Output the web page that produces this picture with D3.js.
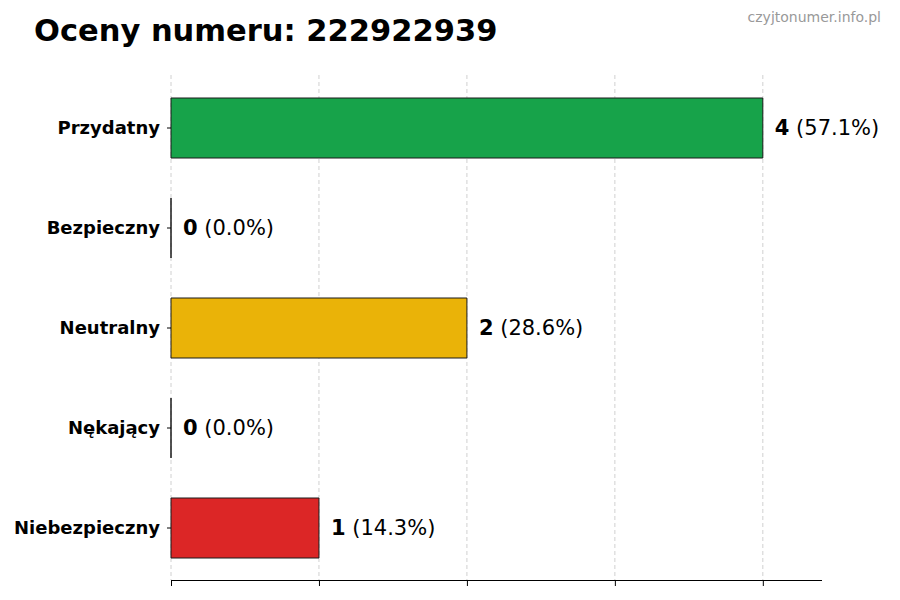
<!DOCTYPE html>
<html>
  <head>
    <meta charset="utf-8">
    <script src="https://d3js.org/d3.v7.min.js"></script>
    <style>
      body { margin: 0; background: #fff; }
      text { font-family: "DejaVu Sans", sans-serif; }
      .grid line { stroke: #d0d0d0; stroke-dasharray: 4,3; }
    </style>
  </head>
  <body>
    <div id="chart"></div>
    <script>
      // data
      var categories = ["Przydatny", "Bezpieczny", "Neutralny", "Nękający", "Niebezpieczny"];
      var counts = [4, 0, 2, 0, 1];
      var percents = ["57.1%", "0.0%", "28.6%", "0.0%", "14.3%"];
      var barColors = ["#17a34a", "#9ca3af", "#eab308", "#f97316", "#dc2626"];
      var xTicks = [0, 1, 2, 3, 4];
      var titleText = "Oceny numeru: 222922939";
      var sourceText = "czyjtonumer.info.pl";

      var width = 900, height = 600;
      var margin = {top: 75, right: 78, bottom: 20, left: 171};

      var svg = d3.select("#chart").append("svg")
          .attr("width", width)
          .attr("height", height);

      var x = d3.scaleLinear()
          .domain([0, 4.4])
          .range([margin.left, width - margin.right]);

      var y = d3.scaleBand()
          .domain(categories)
          .range([78, 578])
          .paddingInner(0.4)
          .paddingOuter(0.2);

      // vertical dashed grid
      svg.append("g")
          .attr("class", "grid")
          .selectAll("line")
          .data(xTicks)
          .enter().append("line")
            .attr("x1", function(d) { return x(d); })
            .attr("x2", function(d) { return x(d); })
            .attr("y1", margin.top)
            .attr("y2", 580);

      // bars as paths so that zero-width bars still show their edge
      svg.append("g")
          .selectAll("path")
          .data(categories)
          .enter().append("path")
            .attr("d", function(d, i) {
              var w = x(counts[i]) - x(0);
              return "M" + x(0) + "," + y(d) + "h" + w + "v" + y.bandwidth() + "h" + (-w) + "Z";
            })
            .attr("fill", function(d, i) { return barColors[i]; })
            .attr("stroke", "#1a1a1a")
            .attr("stroke-width", 1);

      // bottom axis, no labels
      var xAxis = svg.append("g")
          .attr("transform", "translate(0,580)")
          .call(d3.axisBottom(x).tickValues(xTicks).tickSize(6).tickFormat(""));
      xAxis.select(".domain").attr("d", "M" + x(0) + ",0.5H" + x(4.4)).attr("stroke", "#000");
      xAxis.selectAll(".tick line").attr("stroke", "#000");

      // left axis: ticks and labels only
      var yAxis = svg.append("g")
          .attr("transform", "translate(" + x(0) + ",0)")
          .call(d3.axisLeft(y).tickSize(4).tickPadding(7));
      yAxis.select(".domain").remove();
      yAxis.selectAll(".tick line").attr("stroke", "#000");
      yAxis.selectAll(".tick text")
          .attr("font-family", "DejaVu Sans")
          .attr("font-size", "18px")
          .attr("font-weight", "bold")
          .attr("fill", "#000");

      // value labels
      var labels = svg.append("g")
          .selectAll("text")
          .data(categories)
          .enter().append("text")
            .attr("x", function(d, i) { return x(counts[i]) + 12; })
            .attr("y", function(d) { return y(d) + y.bandwidth() / 2; })
            .attr("dy", "0.35em")
            .attr("font-size", "21px")
            .attr("fill", "#000");
      labels.append("tspan")
          .attr("font-weight", "bold")
          .text(function(d, i) { return counts[i]; });
      labels.append("tspan")
          .text(function(d, i) { return " (" + percents[i] + ")"; });

      // title and source
      svg.append("text")
          .attr("x", 34)
          .attr("y", 41)
          .attr("font-size", "30.5px")
          .attr("font-weight", "bold")
          .attr("fill", "#000")
          .text(titleText);

      svg.append("text")
          .attr("x", 881)
          .attr("y", 22)
          .attr("text-anchor", "end")
          .attr("font-size", "14px")
          .attr("fill", "#999")
          .text(sourceText);
    </script>
  </body>
</html>
